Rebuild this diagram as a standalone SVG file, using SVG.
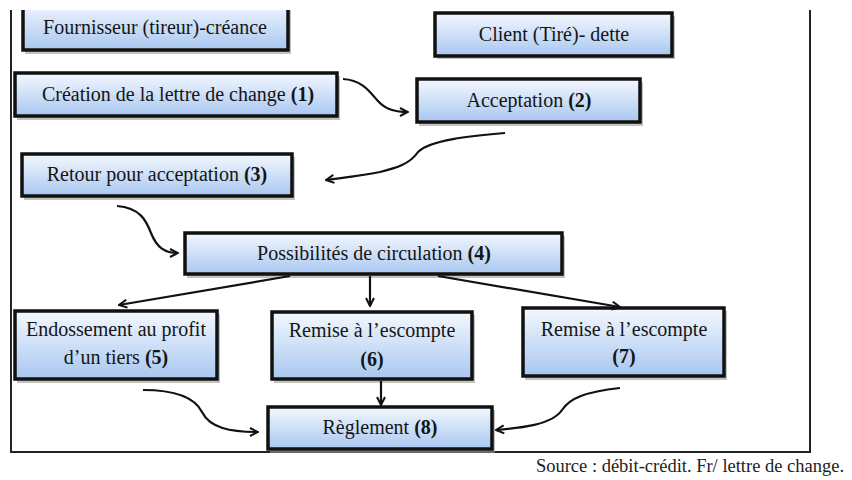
<svg xmlns="http://www.w3.org/2000/svg" width="852" height="480" viewBox="0 0 852 480">
<defs>
<linearGradient id="g" x1="0" y1="0" x2="0" y2="1">
<stop offset="0" stop-color="#f4f8fe"/>
<stop offset="1" stop-color="#a8c7f0"/>
</linearGradient>
<marker id="a" viewBox="0 0 10 10" refX="9" refY="5" markerWidth="10" markerHeight="10" markerUnits="userSpaceOnUse" orient="auto">
<path d="M1,1 L9,5 L1,9" fill="none" stroke="#111" stroke-width="2"/>
</marker>
</defs>
<style>
.sh{fill:#9a9a9a;opacity:0.6}
.bx{fill:url(#g);stroke:#111;stroke-width:3.5}
.t{font-family:'Liberation Serif','Times New Roman',serif;font-size:20px;fill:#151515;text-anchor:middle}
.b{font-weight:bold}
.c{fill:none;stroke:#111;stroke-width:2.2;marker-end:url(#a)}
.fr{fill:none;stroke:#222;stroke-width:2}
</style>
<rect width="852" height="480" fill="#fff"/>
<path class="fr" d="M11,10 L11,452 L810,452 L810,10"/>

<g id="n-fournisseur">
<rect class="sh" x="25" y="4" width="266" height="50"/>
<rect class="bx" x="23" y="1" width="265" height="49"/>
<text class="t" x="155" y="34">Fournisseur (tireur)-créance</text>
</g>
<rect x="0" y="0" width="852" height="10" fill="#fff"/>
<g id="n-client">
<rect class="sh" x="437" y="16" width="238" height="43"/>
<rect class="bx" x="435" y="13" width="237" height="43"/>
<text class="t" x="554" y="41">Client (Tiré)- dette</text>
</g>
<g id="n-creation">
<rect class="sh" x="17" y="76" width="323" height="44"/>
<rect class="bx" x="15" y="73" width="322" height="43"/>
<text class="t" x="178" y="101">Création de la lettre de change <tspan class="b">(1)</tspan></text>
</g>
<g id="n-acceptation">
<rect class="sh" x="419" y="82" width="224" height="44"/>
<rect class="bx" x="417" y="79" width="223" height="43"/>
<text class="t" x="529" y="107">Acceptation <tspan class="b">(2)</tspan></text>
</g>
<g id="n-retour">
<rect class="sh" x="24" y="157" width="271" height="43"/>
<rect class="bx" x="22" y="154" width="270" height="42"/>
<text class="t" x="157" y="181">Retour pour acceptation <tspan class="b">(3)</tspan></text>
</g>
<g id="n-possibilites">
<rect class="sh" x="187" y="236" width="378" height="42"/>
<rect class="bx" x="185" y="233" width="377" height="41"/>
<text class="t" x="374" y="260">Possibilités de circulation <tspan class="b">(4)</tspan></text>
</g>
<g id="n-endossement">
<rect class="sh" x="17" y="314" width="203" height="69"/>
<rect class="bx" x="15" y="311" width="202" height="68"/>
<text class="t" x="116" y="336">Endossement au profit</text>
<text class="t" x="116" y="364">d’un tiers <tspan class="b">(5)</tspan></text>
</g>
<g id="n-remise6">
<rect class="sh" x="274" y="315" width="201" height="68"/>
<rect class="bx" x="272" y="312" width="200" height="67"/>
<text class="t" x="372" y="337">Remise à l’escompte</text>
<text class="t b" x="372" y="366">(6)</text>
</g>
<g id="n-remise7">
<rect class="sh" x="525" y="311" width="202" height="69"/>
<rect class="bx" x="523" y="308" width="201" height="68"/>
<text class="t" x="624" y="336">Remise à l’escompte</text>
<text class="t b" x="624" y="363">(7)</text>
</g>
<g id="n-reglement">
<rect class="sh" x="270" y="410" width="225" height="43"/>
<rect class="bx" x="268" y="407" width="224" height="42"/>
<text class="t" x="380" y="434">Règlement <tspan class="b">(8)</tspan></text>
</g>

<g id="connectors">
<path class="c" d="M343,79 C362,80 370,92 377,100 C384,108 392,112 408,112"/>
<path class="c" d="M505,133 C470,136 430,140 418,152 C410,164 396,168 380,172 C360,176 340,178 326,180"/>
<path class="c" d="M117,206 C140,208 146,220 151,233 C157,248 165,253 178,253"/>
<path class="c" d="M290,276 L119,305"/>
<path class="c" d="M370,276 L370,306"/>
<path class="c" d="M438,276 L620,307"/>
<path class="c" d="M381,381 L381,405"/>
<path class="c" d="M143,390 C175,390 195,398 202,412 C210,428 230,432 258,432"/>
<path class="c" d="M620,388 C585,392 570,398 562,410 C552,425 520,428 496,430"/>
</g>
<text x="690" y="472" font-family="Liberation Serif, serif" font-size="18.5" fill="#222" text-anchor="middle">Source : débit-crédit. Fr/ lettre de change.</text>
</svg>
